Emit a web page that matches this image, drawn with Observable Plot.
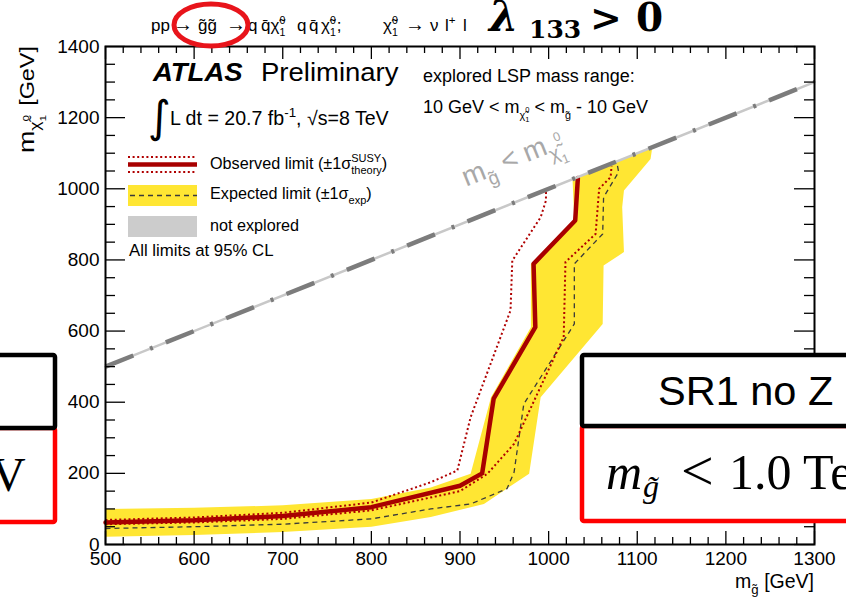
<!DOCTYPE html>
<html><head><meta charset="utf-8">
<script src="https://cdn.jsdelivr.net/npm/d3@7"></script>
<script src="https://cdn.jsdelivr.net/npm/@observablehq/plot@0.6"></script>
<style>
html,body{margin:0;padding:0;background:#fff;}
#chart{width:846px;height:606px;overflow:hidden;position:relative;}
svg text{white-space:pre;}
</style></head><body><div id="chart"></div>
<script>
// ---- data (m_gluino [GeV], m_LSP [GeV]) ----
const xTickValues = [500,600,700,800,900,1000,1100,1200,1300];
const yTickValues = [0,200,400,600,800,1000,1200,1400];
const diagonal = [500, 1300];
const observed = [[500,62],[600,68],[700,80],[800,105],[900,165],[925,200],[938,410],[985,611],[983,789],[1030,911],[1033,1030]];
const observedMinus = [[500,69],[600,76],[700,89],[800,118],[867,175],[897,208],[912,358],[957,658],[959,798],[991,920],[997,967],[997,994]];
const observedPlus = [[500,57],[600,62],[700,72],[800,96],[900,150],[931,199],[961,283],[1017,583],[1019,794],[1053,873],[1057,1000],[1070,1033],[1071,1064]];
const expected = [[500,45],[600,50],[700,57],[800,72],[867,100],[912,114],[953,157],[961,203],[972,395],[1029,620],[1029,789],[1061,873],[1062,976],[1079,1047],[1077,1074]];
const bandUpper = [[500,100],[600,103],[700,110],[800,128],[867,160],[912,199],[935,414],[980,611],[980,789],[987,803],[1029,911],[1027,1027]];
const bandLower = [[1117,1117],[1115,1084],[1085,995],[1083,948],[1085,822],[1062,784],[1061,620],[991,414],[978,199],[927,114],[867,77],[800,50],[700,35],[600,27],[500,22]];

const SANS = "'Liberation Sans', Arial, Helvetica, sans-serif";
const SERIF = "'DejaVu Serif', 'Liberation Serif', serif";
const LSERIF = "'Liberation Serif', serif";
const W=846,H=606,ML=105,MR=32,MT=46,MB=62;
const FW=W-ML-MR, FH=H-MT-MB;
const P = pts => pts.map(([x,y]) => ({x,y}));
const band = P([...bandUpper, ...bandLower]);
const diag = diagonal.map(v => ({x:v,y:v}));
const xMinor = d3.range(500,1301,20).filter(v => v%100 !== 0);
const yMinor = d3.range(0,1401,50).filter(v => v%200 !== 0);
const dotted = {x:"x",y:"y",stroke:"#b00000",strokeWidth:2,strokeDasharray:"2 2.6",strokeLinecap:"butt"};

const plot = Plot.plot({
  width:W, height:H, marginLeft:ML, marginRight:MR, marginTop:MT, marginBottom:MB,
  x:{domain:[500,1300]}, y:{domain:[0,1400]},
  style:{fontFamily:SANS, fontSize:"19px", color:"black", background:"white"},
  marks:[
    Plot.line(band,{x:"x",y:"y",fill:"#ffe633",stroke:"none"}),
    Plot.line(P(expected),{x:"x",y:"y",stroke:"#3a3a3a",strokeWidth:1.3,strokeDasharray:"5 4",strokeLinecap:"butt"}),
    Plot.line(P(observedMinus),dotted),
    Plot.line(P(observedPlus),dotted),
    Plot.line(P(observed),{x:"x",y:"y",stroke:"#a80000",strokeWidth:4.5}),
    Plot.line(diag,{x:"x",y:"y",stroke:"#c8c8c8",strokeWidth:2.5}),
    Plot.line(diag,{x:"x",y:"y",stroke:"#7c7c7c",strokeWidth:4.5,strokeDasharray:"30 18 3 14",strokeLinecap:"butt"}),
    Plot.ruleX(xTickValues,{insetTop:FH-13,stroke:"black",strokeWidth:1.3}),
    Plot.ruleX(xTickValues,{insetBottom:FH-13,stroke:"black",strokeWidth:1.3}),
    Plot.ruleX(xMinor,{insetTop:FH-7,stroke:"black",strokeWidth:1.3}),
    Plot.ruleX(xMinor,{insetBottom:FH-7,stroke:"black",strokeWidth:1.3}),
    Plot.ruleY(yTickValues,{insetRight:FW-20,stroke:"black",strokeWidth:1.3}),
    Plot.ruleY(yTickValues,{insetLeft:FW-20,stroke:"black",strokeWidth:1.3}),
    Plot.ruleY(yMinor,{insetRight:FW-10,stroke:"black",strokeWidth:1.3}),
    Plot.ruleY(yMinor,{insetLeft:FW-10,stroke:"black",strokeWidth:1.3}),
    Plot.frame({stroke:"black",strokeWidth:2}),
    Plot.axisX({ticks:xTickValues,tickSize:0,tickPadding:7,label:null,fontSize:19,tickFormat:d=>String(d)}),
    Plot.axisY({ticks:yTickValues,tickSize:0,tickPadding:6,label:null,fontSize:19,tickFormat:d=>String(d)})
  ]
});
document.getElementById("chart").appendChild(plot);

const xs = plot.scale("x"), ys = plot.scale("y");
const X = v => xs.apply(v), Y = v => ys.apply(v);
const svg = d3.select(plot);
const ov = svg.append("g").attr("text-anchor","start");

// rich text helper: segments are strings, {t,k,dy} shifted text, or {sup, sub} stacks
function rich(parent, x, y, segs, o = {}) {
  const fs = o.fs || 16;
  let tr = `translate(${x},${y})`;
  if (o.rotate) tr += ` rotate(${o.rotate})`;
  if (o.sx) tr += ` scale(${o.sx},${o.sy || 1})`;
  const outer = parent.append("g").attr("transform", tr).attr("text-anchor","start")
    .attr("fill", o.fill || "black").attr("font-family", o.font || SANS);
  if (o.weight) outer.attr("font-weight", o.weight);
  if (o.style) outer.attr("font-style", o.style);
  const g = outer.append("g");
  let cx = 0;
  const put = (txt, size, dy) => {
    const t = g.append("text").attr("x", cx).attr("y", dy).attr("font-size", size).text(txt);
    return t.node().getComputedTextLength();
  };
  for (const s of segs) {
    if (typeof s === "string") {
      cx += put(s, fs, 0);
    } else if (s.t != null) {
      cx += put(s.t, fs*(s.k || 1), fs*(s.dy || 0)) + (s.gap || 0);
    } else {
      let w = 0;
      const k = s.k || 0.68;
      const base = s.base || 0;
      if (s.sup != null) w = Math.max(w, put(s.sup, fs*k, fs*(base - (s.up || 0.42))));
      if (s.sub != null) w = Math.max(w, put(s.sub, fs*k, fs*(base + (s.down || 0.3))));
      cx += w + (s.gap || 0);
    }
  }
  if (o.anchor === "end") g.attr("transform", `translate(${-cx},0)`);
  if (o.anchor === "middle") g.attr("transform", `translate(${-cx/2},0)`);
  return cx;
}
const gT = "g\u0303", chiT = "\u03C7\u0303", qB = "q\u0304";
const chiStack = {sup:"0", sub:"1", k:0.62, gap:1};

// header (process line)
const HF = 17, HY = 31;
rich(ov, 151, HY, ["pp"], {fs:HF});
rich(ov, 173, HY, ["\u2192"], {fs:HF+3});
rich(ov, 198, HY, [gT + gT], {fs:HF});
rich(ov, 226, HY, ["\u2192"], {fs:HF+3});
rich(ov, 248, HY, ["q"], {fs:HF});
rich(ov, 261, HY, [qB + chiT, chiStack], {fs:HF});
rich(ov, 297, HY, ["q"], {fs:HF});
rich(ov, 309, HY, [qB], {fs:HF});
rich(ov, 321, HY, [chiT, chiStack, ";"], {fs:HF});
rich(ov, 383, HY, [chiT, chiStack], {fs:HF});
rich(ov, 405, HY, ["\u2192"], {fs:HF+3});
rich(ov, 430, HY, ["\u03BD"], {fs:HF});
rich(ov, 445, HY, ["l", {sup:"+", k:0.68}], {fs:HF});
rich(ov, 463, HY, ["l"], {fs:HF});

// ATLAS label
rich(ov, 153, 81, ["ATLAS"], {fs:25, sx:1.1, weight:"bold", style:"italic"});
rich(ov, 261, 81, ["Preliminary"], {fs:25, sx:1.1});
ov.append("text").attr("x",148).attr("y",132).attr("font-family","'DejaVu Sans', sans-serif").attr("font-size",44).text("\u222B");
rich(ov, 170, 125, ["L dt = 20.7 fb", {sup:"-1"}, ", \u221As=8 TeV"], {fs:19.6});

// legend
const lx1 = 128, lx2 = 197, LF = 16.2;
ov.append("line").attr("x1",lx1).attr("x2",lx2).attr("y1",157).attr("y2",157).attr("stroke","#b00000").attr("stroke-width",2).attr("stroke-dasharray","2 2.6");
ov.append("line").attr("x1",lx1).attr("x2",lx2).attr("y1",172).attr("y2",172).attr("stroke","#b00000").attr("stroke-width",2).attr("stroke-dasharray","2 2.6");
ov.append("line").attr("x1",lx1).attr("x2",lx2).attr("y1",164.5).attr("y2",164.5).attr("stroke","#a80000").attr("stroke-width",4.5);
rich(ov, 210, 169, ["Observed limit (\u00B11\u03C3", {sup:"SUSY", sub:"theory"}, ")"], {fs:LF});
ov.append("rect").attr("x",lx1).attr("y",185).attr("width",lx2-lx1).attr("height",21).attr("fill","#ffe633");
ov.append("line").attr("x1",lx1+2).attr("x2",lx2).attr("y1",195.5).attr("y2",195.5).attr("stroke","#3a3a3a").attr("stroke-width",1.3).attr("stroke-dasharray","5 4");
rich(ov, 210, 199, ["Expected limit (\u00B11\u03C3", {sub:"exp"}, ")"], {fs:LF});
ov.append("rect").attr("x",lx1).attr("y",216).attr("width",lx2-lx1).attr("height",21).attr("fill","#cccccc");
rich(ov, 210, 231, ["not explored"], {fs:LF});
rich(ov, 129, 256, ["All limits at 95% CL"], {fs:16.8});

// explored range
rich(ov, 423, 82, ["explored LSP mass range:"], {fs:18});
rich(ov, 423, 113, ["10 GeV < m", {t:chiT, k:0.6, dy:0.32}, {sup:"0", sub:"1", k:0.42, base:0.32, up:0.35, down:0.2}, " < m", {t:gT, k:0.6, dy:0.32}, " - 10 GeV"], {fs:18});

// diagonal label (along the m_g = m_LSP line)
const ang = Math.atan2(Y(1300)-Y(500), X(1300)-X(500));
const d0 = 921, off = 32;
const px0 = X(d0) + off*Math.sin(ang), py0 = Y(d0) - off*Math.cos(ang);
rich(ov, px0, py0, ["m", {t:gT, k:0.68, dy:0.3}, " < m", {t:chiT, k:0.68, dy:0.3}, {sup:"0", sub:"1", k:0.45, base:0.3, up:0.6, down:0.25}], {fs:28, fill:"#a8a8a8", rotate: ang*180/Math.PI});

// axis titles
rich(ov, 814, 588, ["m", {t:gT, k:0.68, dy:0.3}, " [GeV]"], {fs:19.5, anchor:"end"});
rich(ov, 34, 46, [{t:"m", k:1.15}, {t:chiT, k:0.75, dy:0.3}, {sup:"0", sub:"1", k:0.5, base:0.3, up:0.55, down:0.3, gap:2}, " [GeV]"], {fs:18, anchor:"end", rotate:-90, sx:1.3, sy:1.08});

// overlays: red ellipse, lambda text, boxes
ov.append("ellipse").attr("cx",211).attr("cy",25).attr("rx",37).attr("ry",21).attr("fill","none").attr("stroke","#e8141b").attr("stroke-width",5);
ov.append("text").attr("x",489).attr("y",31).attr("font-family",SERIF).attr("font-weight","bold").attr("font-style","italic").attr("font-size",42).text("\u03BB");
ov.append("text").attr("x",529).attr("y",38).attr("font-family",SERIF).attr("font-weight","bold").attr("font-size",25).text("133");
ov.append("text").attr("x",590).attr("y",31).attr("font-family",SERIF).attr("font-weight","bold").attr("font-size",38).text(">");
ov.append("text").attr("x",636).attr("y",31).attr("font-family",SERIF).attr("font-weight","bold").attr("font-size",39).text("0");

function box(x1, x2, yTop, yMid, yBot) {
  ov.append("rect").attr("x",x1).attr("y",yMid).attr("width",x2-x1).attr("height",yBot-yMid).attr("rx",2).attr("fill","white").attr("stroke","#ff0000").attr("stroke-width",4.5);
  ov.append("rect").attr("x",x1).attr("y",yTop).attr("width",x2-x1).attr("height",yMid-yTop).attr("rx",2).attr("fill","white").attr("stroke","black").attr("stroke-width",4.5);
}
box(-20, 55, 355, 428, 522);
box(582, 870, 355, 426, 521);
rich(ov, 658, 405, ["SR1 no Z"], {fs:41.5});
ov.append("text").attr("x",-9).attr("y",491).attr("font-family",LSERIF).attr("font-size",48).text("V");
rich(ov, 606, 489, ["m"], {fs:50, font:LSERIF, style:"italic"});
rich(ov, 643, 497, [gT], {fs:32, font:LSERIF, style:"italic"});
rich(ov, 681, 490, ["<"], {fs:58, font:LSERIF});
rich(ov, 729, 489, ["1.0 TeV"], {fs:50, font:LSERIF});
</script></body></html>
